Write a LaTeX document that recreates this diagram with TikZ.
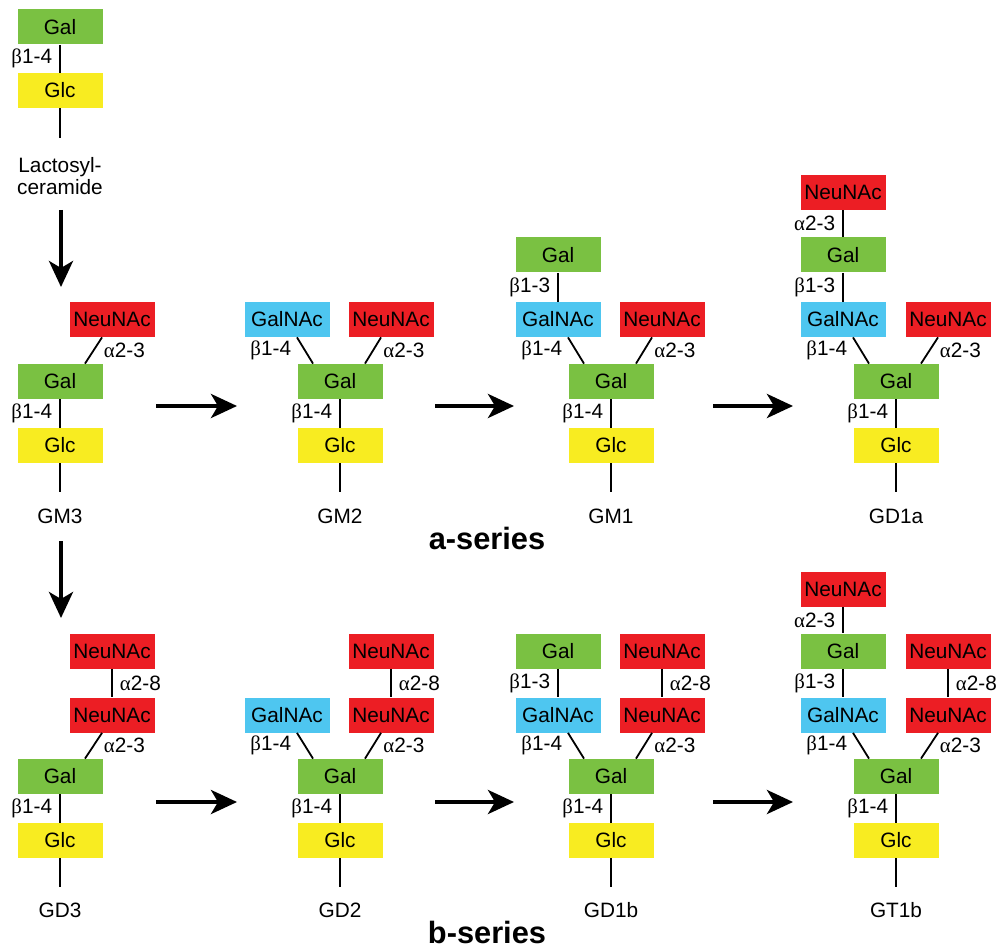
\documentclass[tikz,border=0pt]{standalone}
\usepackage{fontspec}
\setmainfont{Liberation Sans}
\newfontfamily\grk{Liberation Serif}
\usetikzlibrary{arrows.meta}

\definecolor{galgreen}{RGB}{122,193,66}
\definecolor{glcyellow}{RGB}{248,236,33}
\definecolor{nacblue}{RGB}{78,198,240}
\definecolor{neured}{RGB}{236,30,36}

\newcommand{\gb}{{\grk β}}
\newcommand{\ga}{{\grk α}}

\tikzset{
  sugar/.style={minimum width=42.5pt, minimum height=17.5pt, inner sep=0pt,
    font=\fontsize{10.4}{12}\selectfont},
  gal/.style={sugar, fill=galgreen},
  glc/.style={sugar, fill=glcyellow},
  galnac/.style={sugar, fill=nacblue},
  neu/.style={sugar, fill=neured},
  link/.style={line width=0.9pt},
  lab/.style={inner sep=0pt, font=\fontsize{10.4}{12}\selectfont},
  labl/.style={lab, anchor=east, xshift=-3.5pt},
  labr/.style={lab, anchor=west, xshift=3.5pt},
  labdl/.style={lab, anchor=east, xshift=-6.5pt},
  labdr/.style={lab, anchor=west, xshift=4.75pt},
  gname/.style={inner sep=0pt, font=\fontsize{10.4}{12}\selectfont},
  series/.style={inner sep=0pt, anchor=base, font=\fontsize{15.4}{18}\selectfont\bfseries},
  arr/.style={line width=2pt, -{Stealth[length=13pt,width=12pt,inset=3.5pt]}}
}

\begin{document}
\begin{tikzpicture}[x=0.5pt, y=-0.5pt]
  \useasboundingbox (0,0) rectangle (1000,951);

  % lactosylceramide
  \node[gal] (lgal) at (60,27) {Gal};
  \node[glc] (lglc) at (60,90.5) {Glc};
  \coordinate (lend) at (60,138);
  \node[gname, align=center] (lname) at (60,176) {Lactosyl-\\[-1.2pt]ceramide};
  \draw[link] (lgal) -- (lglc) node[midway, labl] {\gb1-4};
  \draw[link] (lglc) -- (lend);

  % GM3
  \node[neu] (m3neu) at (112,319.5) {NeuNAc};
  \node[gal] (m3gal) at (60,381.5) {Gal};
  \node[glc] (m3glc) at (60,445.5) {Glc};
  \coordinate (m3end) at (60,492);
  \node[gname] (m3) at (60,516) {GM3};
  \draw[link] ([xshift=-5pt]m3neu.south) -- ([xshift=12.5pt]m3gal.north) node[midway, labdr] {\ga2-3};
  \draw[link] (m3gal) -- (m3glc) node[midway, labl] {\gb1-4};
  \draw[link] (m3glc) -- (m3end);

  % GM2
  \node[galnac] (m2nac) at (287,319.5) {GalNAc};
  \node[neu] (m2neu) at (391,319.5) {NeuNAc};
  \node[gal] (m2gal) at (340,381.5) {Gal};
  \node[glc] (m2glc) at (340,445.5) {Glc};
  \coordinate (m2end) at (340,492);
  \node[gname] (m2) at (340,516) {GM2};
  \draw[link] ([xshift=5pt]m2nac.south) -- ([xshift=-13.5pt]m2gal.north) node[midway, labdl] {\gb1-4};
  \draw[link] ([xshift=-5pt]m2neu.south) -- ([xshift=12.5pt]m2gal.north) node[midway, labdr] {\ga2-3};
  \draw[link] (m2gal) -- (m2glc) node[midway, labl] {\gb1-4};
  \draw[link] (m2glc) -- (m2end);

  % GM1
  \node[gal] (m1gal2) at (558,255) {Gal};
  \node[galnac] (m1nac) at (558,319.5) {GalNAc};
  \node[neu] (m1neu) at (662,319.5) {NeuNAc};
  \node[gal] (m1gal) at (611,381.5) {Gal};
  \node[glc] (m1glc) at (611,445.5) {Glc};
  \coordinate (m1end) at (611,492);
  \node[gname] (m1) at (611,516) {GM1};
  \draw[link] (m1gal2) -- (m1nac) node[midway, labl] {\gb1-3};
  \draw[link] ([xshift=5pt]m1nac.south) -- ([xshift=-13.5pt]m1gal.north) node[midway, labdl] {\gb1-4};
  \draw[link] ([xshift=-5pt]m1neu.south) -- ([xshift=12.5pt]m1gal.north) node[midway, labdr] {\ga2-3};
  \draw[link] (m1gal) -- (m1glc) node[midway, labl] {\gb1-4};
  \draw[link] (m1glc) -- (m1end);

  % GD1a
  \node[neu] (d1aneu2) at (843,192.5) {NeuNAc};
  \node[gal] (d1agal2) at (843,255) {Gal};
  \node[galnac] (d1anac) at (843,319.5) {GalNAc};
  \node[neu] (d1aneu) at (948,319.5) {NeuNAc};
  \node[gal] (d1agal) at (896,381.5) {Gal};
  \node[glc] (d1aglc) at (896,445.5) {Glc};
  \coordinate (d1aend) at (896,492);
  \node[gname] (d1a) at (896,516) {GD1a};
  \draw[link] (d1aneu2) -- (d1agal2) node[midway, labl] {\ga2-3};
  \draw[link] (d1agal2) -- (d1anac) node[midway, labl] {\gb1-3};
  \draw[link] ([xshift=5pt]d1anac.south) -- ([xshift=-13.5pt]d1agal.north) node[midway, labdl] {\gb1-4};
  \draw[link] ([xshift=-5pt]d1aneu.south) -- ([xshift=12.5pt]d1agal.north) node[midway, labdr] {\ga2-3};
  \draw[link] (d1agal) -- (d1aglc) node[midway, labl] {\gb1-4};
  \draw[link] (d1aglc) -- (d1aend);

  % GD3
  \node[neu] (d3neu2) at (112,651) {NeuNAc};
  \node[neu] (d3neu) at (112,715) {NeuNAc};
  \node[gal] (d3gal) at (60,776.5) {Gal};
  \node[glc] (d3glc) at (60,840.5) {Glc};
  \coordinate (d3end) at (60,887);
  \node[gname] (d3) at (60,910) {GD3};
  \draw[link] (d3neu2) -- (d3neu) node[midway, labr] {\ga2-8};
  \draw[link] ([xshift=-5pt]d3neu.south) -- ([xshift=12.5pt]d3gal.north) node[midway, labdr] {\ga2-3};
  \draw[link] (d3gal) -- (d3glc) node[midway, labl] {\gb1-4};
  \draw[link] (d3glc) -- (d3end);

  % GD2
  \node[neu] (d2neu2) at (391,651) {NeuNAc};
  \node[galnac] (d2nac) at (287,715) {GalNAc};
  \node[neu] (d2neu) at (391,715) {NeuNAc};
  \node[gal] (d2gal) at (340,776.5) {Gal};
  \node[glc] (d2glc) at (340,840.5) {Glc};
  \coordinate (d2end) at (340,887);
  \node[gname] (d2) at (340,910) {GD2};
  \draw[link] (d2neu2) -- (d2neu) node[midway, labr] {\ga2-8};
  \draw[link] ([xshift=5pt]d2nac.south) -- ([xshift=-13.5pt]d2gal.north) node[midway, labdl] {\gb1-4};
  \draw[link] ([xshift=-5pt]d2neu.south) -- ([xshift=12.5pt]d2gal.north) node[midway, labdr] {\ga2-3};
  \draw[link] (d2gal) -- (d2glc) node[midway, labl] {\gb1-4};
  \draw[link] (d2glc) -- (d2end);

  % GD1b
  \node[gal] (d1bgal2) at (558,651) {Gal};
  \node[neu] (d1bneu2) at (662,651) {NeuNAc};
  \node[galnac] (d1bnac) at (558,715) {GalNAc};
  \node[neu] (d1bneu) at (662,715) {NeuNAc};
  \node[gal] (d1bgal) at (611,776.5) {Gal};
  \node[glc] (d1bglc) at (611,840.5) {Glc};
  \coordinate (d1bend) at (611,887);
  \node[gname] (d1b) at (611,910) {GD1b};
  \draw[link] (d1bgal2) -- (d1bnac) node[midway, labl] {\gb1-3};
  \draw[link] (d1bneu2) -- (d1bneu) node[midway, labr] {\ga2-8};
  \draw[link] ([xshift=5pt]d1bnac.south) -- ([xshift=-13.5pt]d1bgal.north) node[midway, labdl] {\gb1-4};
  \draw[link] ([xshift=-5pt]d1bneu.south) -- ([xshift=12.5pt]d1bgal.north) node[midway, labdr] {\ga2-3};
  \draw[link] (d1bgal) -- (d1bglc) node[midway, labl] {\gb1-4};
  \draw[link] (d1bglc) -- (d1bend);

  % GT1b
  \node[neu] (t1bneu3) at (843,589) {NeuNAc};
  \node[gal] (t1bgal2) at (843,651) {Gal};
  \node[neu] (t1bneu2) at (948,651) {NeuNAc};
  \node[galnac] (t1bnac) at (843,715) {GalNAc};
  \node[neu] (t1bneu) at (948,715) {NeuNAc};
  \node[gal] (t1bgal) at (896,776.5) {Gal};
  \node[glc] (t1bglc) at (896,840.5) {Glc};
  \coordinate (t1bend) at (896,887);
  \node[gname] (t1b) at (896,910) {GT1b};
  \draw[link] (t1bneu3) -- (t1bgal2) node[midway, labl] {\ga2-3};
  \draw[link] (t1bgal2) -- (t1bnac) node[midway, labl] {\gb1-3};
  \draw[link] (t1bneu2) -- (t1bneu) node[midway, labr] {\ga2-8};
  \draw[link] ([xshift=5pt]t1bnac.south) -- ([xshift=-13.5pt]t1bgal.north) node[midway, labdl] {\gb1-4};
  \draw[link] ([xshift=-5pt]t1bneu.south) -- ([xshift=12.5pt]t1bgal.north) node[midway, labdr] {\ga2-3};
  \draw[link] (t1bgal) -- (t1bglc) node[midway, labl] {\gb1-4};
  \draw[link] (t1bglc) -- (t1bend);

  % series labels
  \node[series] (aser) at (487,549) {a-series};
  \node[series] (bser) at (487,943) {b-series};

  % reaction arrows
  \coordinate (v1s) at (61,210);  \coordinate (v1e) at (61,287);
  \coordinate (v2s) at (61,541);  \coordinate (v2e) at (61,618);
  \coordinate (a1s) at (156,406); \coordinate (a1e) at (237,406);
  \coordinate (a2s) at (435,406); \coordinate (a2e) at (514,406);
  \coordinate (a3s) at (713,406); \coordinate (a3e) at (793,406);
  \coordinate (b1s) at (156,802); \coordinate (b1e) at (237,802);
  \coordinate (b2s) at (435,802); \coordinate (b2e) at (514,802);
  \coordinate (b3s) at (713,802); \coordinate (b3e) at (793,802);
  \draw[arr] (v1s) -- (v1e);
  \draw[arr] (v2s) -- (v2e);
  \draw[arr] (a1s) -- (a1e);
  \draw[arr] (a2s) -- (a2e);
  \draw[arr] (a3s) -- (a3e);
  \draw[arr] (b1s) -- (b1e);
  \draw[arr] (b2s) -- (b2e);
  \draw[arr] (b3s) -- (b3e);

\end{tikzpicture}
\end{document}
